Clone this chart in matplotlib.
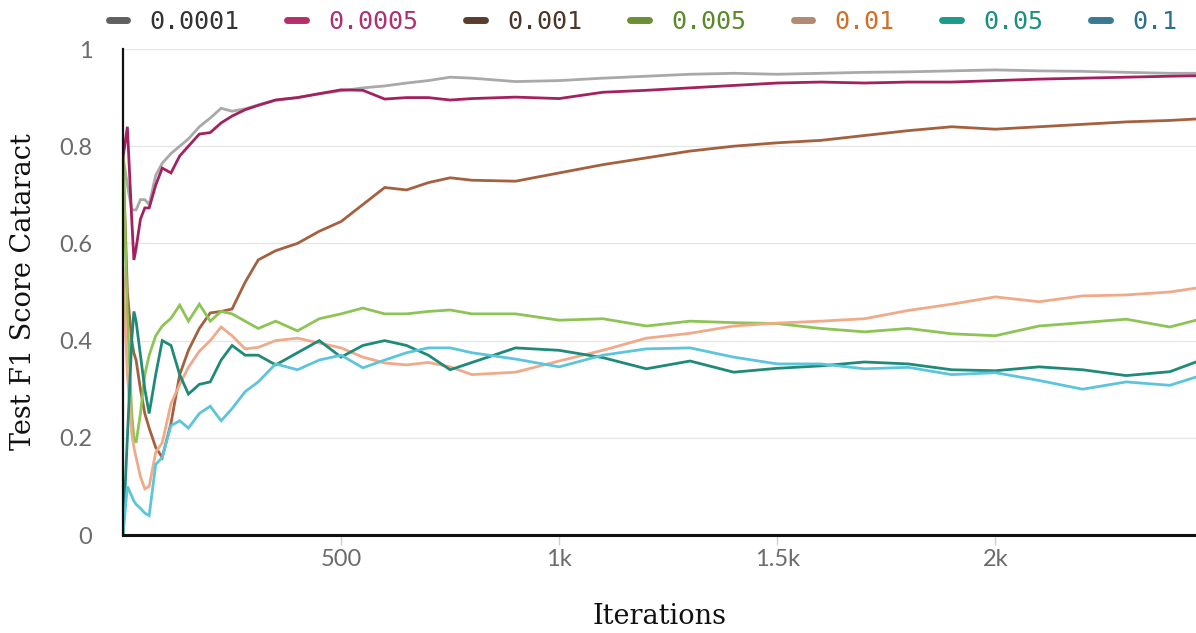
import matplotlib.pyplot as plt
from matplotlib.lines import Line2D

# learning rate runs, smoothed test F1
iters = [0, 10, 20, 25, 30, 40, 50, 60, 75, 90, 110, 130, 150, 175, 200, 225, 250, 280, 310, 350,
         400, 450, 500, 550, 600, 650, 700, 750, 800, 900, 1000, 1100, 1200, 1300, 1400, 1500,
         1600, 1700, 1800, 1900, 2000, 2100, 2200, 2300, 2400, 2460]

lr_0001 = [0.78, 0.72, 0.669, 0.669, 0.669, 0.69, 0.69, 0.68, 0.74, 0.765, 0.785, 0.80, 0.815, 0.84,
           0.858, 0.878, 0.872, 0.877, 0.885, 0.895, 0.90, 0.908, 0.914, 0.92, 0.924, 0.93, 0.935,
           0.942, 0.94, 0.933, 0.935, 0.94, 0.944, 0.948, 0.95, 0.948, 0.95, 0.952, 0.953, 0.955,
           0.957, 0.955, 0.954, 0.952, 0.95, 0.95]
lr_0005 = [0.776, 0.84, 0.65, 0.566, 0.59, 0.65, 0.673, 0.673, 0.72, 0.755, 0.745, 0.78, 0.80, 0.825,
           0.828, 0.848, 0.862, 0.875, 0.884, 0.895, 0.90, 0.908, 0.916, 0.915, 0.897, 0.90, 0.90,
           0.895, 0.898, 0.901, 0.898, 0.911, 0.915, 0.92, 0.925, 0.93, 0.932, 0.93, 0.932, 0.932,
           0.935, 0.938, 0.94, 0.942, 0.944, 0.945]
lr_001 = [0.78, 0.50, 0.40, 0.374, 0.36, 0.30, 0.25, 0.22, 0.18, 0.16, 0.23, 0.33, 0.38, 0.425,
          0.457, 0.46, 0.465, 0.52, 0.566, 0.585, 0.60, 0.625, 0.645, 0.68, 0.715, 0.71, 0.725,
          0.735, 0.73, 0.728, 0.745, 0.762, 0.776, 0.79, 0.80, 0.807, 0.812, 0.822, 0.832, 0.84,
          0.835, 0.84, 0.845, 0.85, 0.853, 0.856]
lr_005 = [0.78, 0.45, 0.25, 0.20, 0.19, 0.25, 0.33, 0.37, 0.41, 0.43, 0.446, 0.473, 0.44, 0.475,
          0.44, 0.46, 0.455, 0.44, 0.425, 0.44, 0.42, 0.445, 0.455, 0.467, 0.455, 0.455, 0.46,
          0.463, 0.455, 0.455, 0.442, 0.445, 0.43, 0.44, 0.437, 0.435, 0.425, 0.418, 0.425, 0.414,
          0.41, 0.43, 0.437, 0.444, 0.428, 0.442]
lr_01 = [0.55, 0.33, 0.21, 0.18, 0.16, 0.12, 0.095, 0.10, 0.17, 0.19, 0.27, 0.31, 0.345, 0.378,
         0.40, 0.428, 0.41, 0.383, 0.386, 0.40, 0.405, 0.395, 0.385, 0.366, 0.354, 0.35, 0.355,
         0.346, 0.33, 0.335, 0.358, 0.38, 0.405, 0.415, 0.43, 0.436, 0.44, 0.445, 0.462, 0.475,
         0.49, 0.48, 0.492, 0.494, 0.50, 0.508]
lr_05 = [0.0, 0.20, 0.40, 0.46, 0.44, 0.37, 0.30, 0.25, 0.33, 0.40, 0.39, 0.33, 0.29, 0.31,
         0.315, 0.36, 0.39, 0.37, 0.37, 0.35, 0.375, 0.40, 0.366, 0.39, 0.40, 0.39, 0.37,
         0.34, 0.355, 0.385, 0.38, 0.365, 0.342, 0.358, 0.335, 0.343, 0.348, 0.356, 0.352, 0.34,
         0.338, 0.346, 0.34, 0.328, 0.336, 0.356]
lr_1 = [0.0, 0.10, 0.08, 0.07, 0.063, 0.055, 0.045, 0.04, 0.145, 0.16, 0.225, 0.235, 0.22, 0.25,
        0.265, 0.235, 0.26, 0.295, 0.315, 0.352, 0.34, 0.36, 0.37, 0.344, 0.36, 0.375, 0.385,
        0.385, 0.375, 0.362, 0.346, 0.37, 0.383, 0.385, 0.366, 0.352, 0.352, 0.342, 0.345, 0.33,
        0.334, 0.318, 0.30, 0.315, 0.308, 0.325]

names = ["0.0001", "0.0005", "0.001", "0.005", "0.01", "0.05", "0.1"]
series = [lr_0001, lr_0005, lr_001, lr_005, lr_01, lr_05, lr_1]
line_colors = ["#a9a9a9", "#a3215f", "#a5603f", "#8dc455", "#f0aa8a", "#1f8a78", "#5cc5dc"]
key_colors = ["#606060", "#b3306c", "#5a3d2f", "#6a8f35", "#b08a72", "#1e9a88", "#3a7a90"]
text_colors = ["#333333", "#b03070", "#4d3528", "#5a8a2a", "#d07028", "#189080", "#2a7090"]

fig = plt.figure(figsize=(11.96, 6.33), dpi=100)
ax = fig.add_axes([123 / 1196, 1 - 535 / 633, 1 - 123 / 1196, (535 - 49) / 633])

for vals, c in zip(series, line_colors):
    ax.plot(iters, vals, color=c, lw=2.0, solid_joinstyle='miter')

ax.set_xlim(0, 2460)
ax.set_ylim(0, 1)

ax.set_yticks([0, 0.2, 0.4, 0.6, 0.8, 1])
ax.set_yticklabels(["0", "0.2", "0.4", "0.6", "0.8", "1"])
ax.set_xticks([500, 1000, 1500, 2000])
ax.set_xticklabels(["500", "1k", "1.5k", "2k"])
ax.tick_params(axis='y', length=0, pad=22, labelsize=17, labelcolor='#6b6b6b')
ax.tick_params(axis='x', length=7, width=1, color='#d0d0d0', pad=3, labelsize=17,
               labelcolor='#6b6b6b')
for lab in ax.get_xticklabels() + ax.get_yticklabels():
    lab.set_family('Lato')

ax.grid(axis='y', color='#e6e6e6', lw=1)
ax.set_axisbelow(True)
for s in ['top', 'right']:
    ax.spines[s].set_visible(False)
ax.spines['left'].set_linewidth(1.6)
ax.spines['bottom'].set_linewidth(2.2)
ax.spines['left'].set_color('#111111')
ax.spines['bottom'].set_color('#111111')

ax.set_xlabel("Iterations", family='DejaVu Serif', fontsize=19.5, labelpad=24, color='#111111')
ax.set_ylabel("Test F1 Score Cataract", family='DejaVu Serif', fontsize=19.5, labelpad=16,
              color='#111111')

handles = [Line2D([], [], color=c, lw=5, solid_capstyle='round') for c in key_colors]
leg = fig.legend(handles, names, loc='center', bbox_to_anchor=(0.5376, 0.966), ncol=7,
                 frameon=False, prop=dict(family='DejaVu Sans Mono', size=18),
                 handlelength=0.75, handletextpad=0.9, columnspacing=1.9)
for t, c in zip(leg.get_texts(), text_colors):
    t.set_color(c)

fig.savefig("out.png", dpi=100)
